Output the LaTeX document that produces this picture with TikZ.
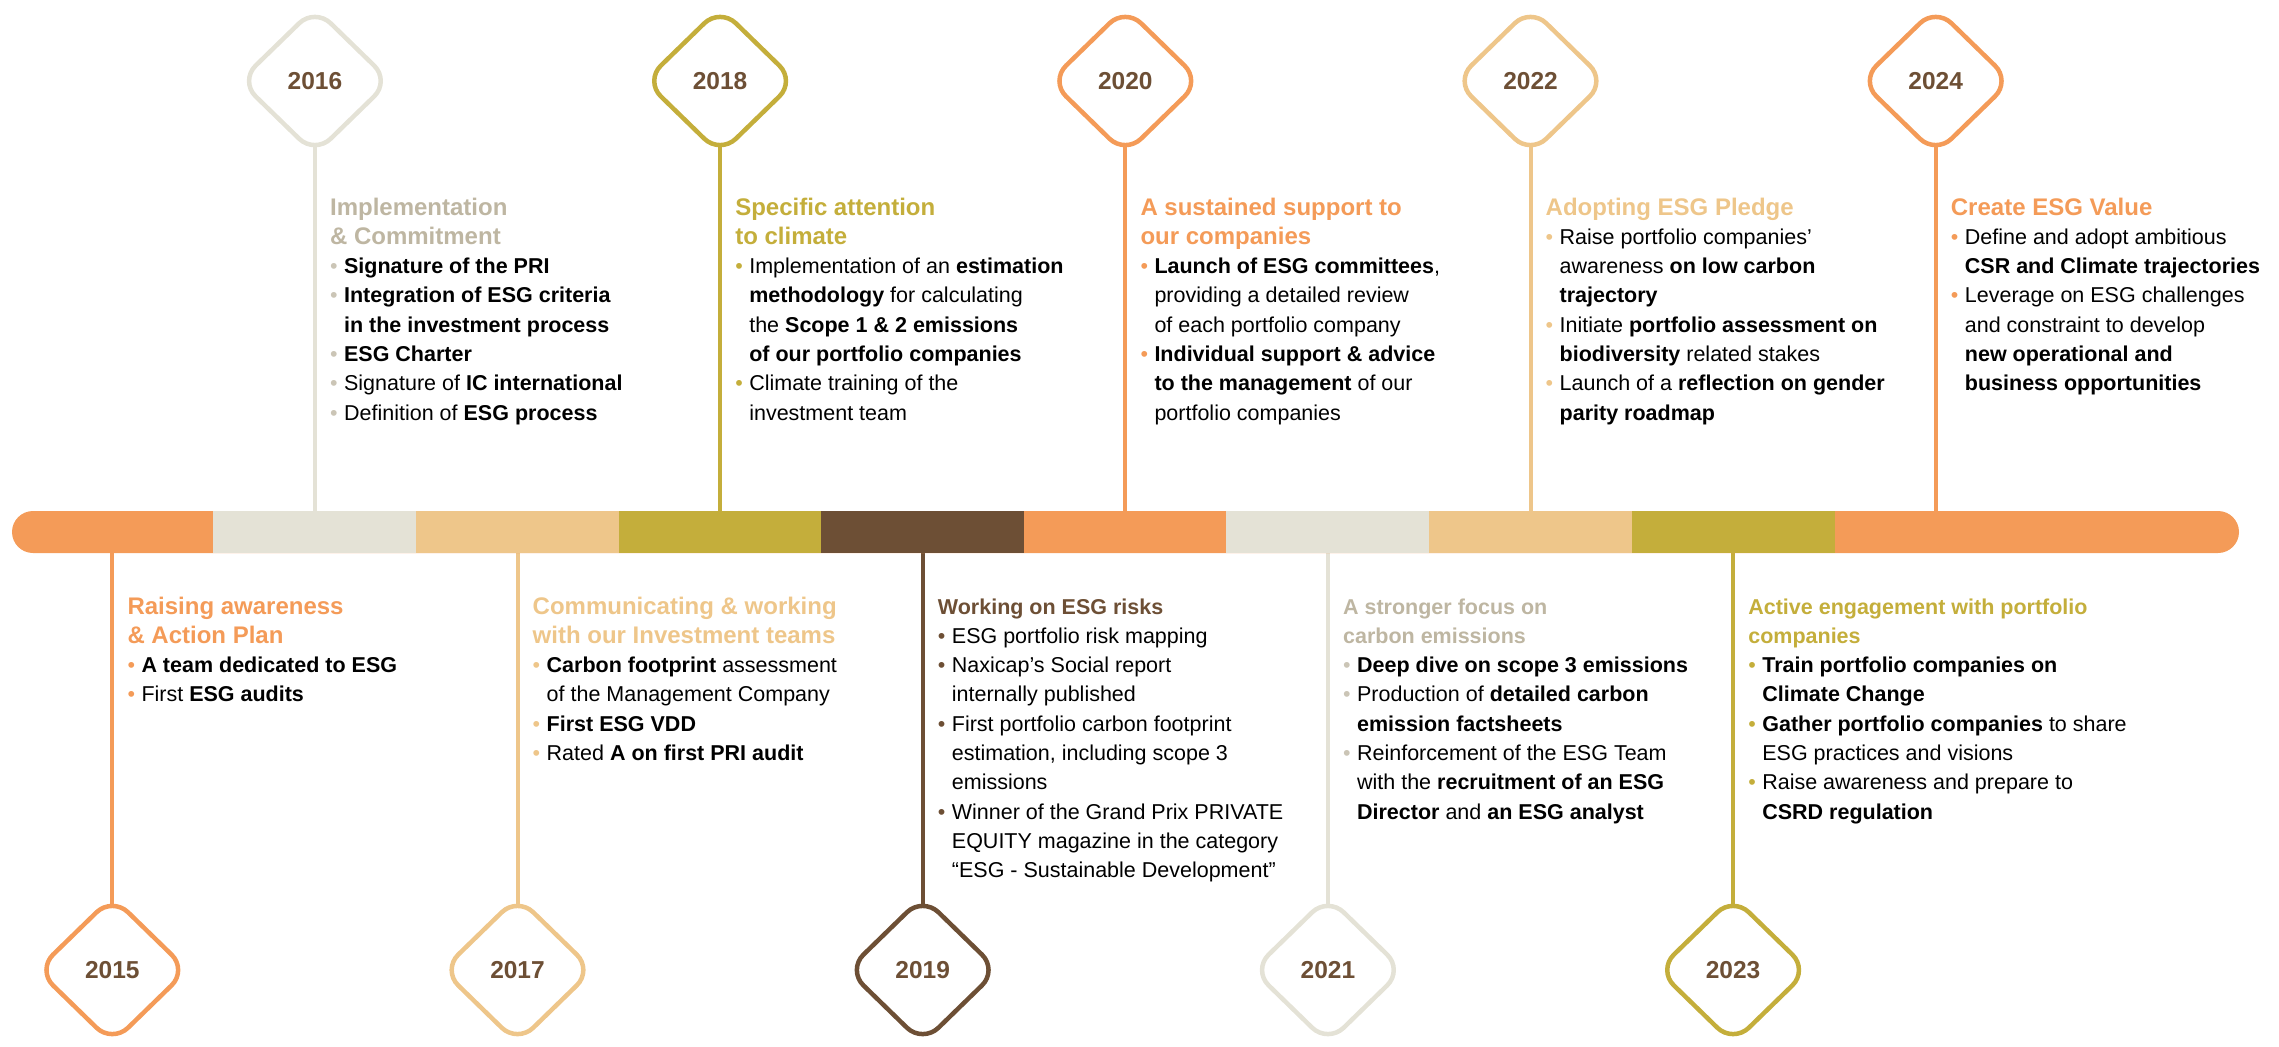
\documentclass[tikz,border=0pt]{standalone}
\usepackage{fontspec}
\setmainfont{Liberation Sans}
\usetikzlibrary{shapes.geometric,backgrounds,positioning}
\definecolor{cOrange}{HTML}{F49B58}
\definecolor{cGray}{HTML}{E4E2D6}
\definecolor{cTan}{HTML}{EEC68A}
\definecolor{cOlive}{HTML}{C4AE3B}
\definecolor{cBrown}{HTML}{6D4F35}
\definecolor{cGrayText}{HTML}{BEB6A2}
\definecolor{cGrayDot}{HTML}{CBC5B6}
\newcommand{\bul}[1]{\makebox[14pt][l]{\textcolor{#1}{•}}}
\newcommand{\cont}{\hspace*{14pt}}
\newcommand{\ttl}[2]{{\fontsize{24}{29.3}\selectfont\bfseries\color{#1}#2}}
\newcommand{\sttl}[2]{\textcolor{#1}{\textbf{#2}}}

\begin{document}
\begin{tikzpicture}[x=1pt, y=-1pt,
    bar/.style={fill=cOrange, minimum width=2227pt, minimum height=42pt, rounded corners=21pt, inner sep=0pt},
    seg/.style={minimum width=203pt, minimum height=42pt, inner sep=0pt, outer sep=0pt},
    yr/.style={diamond, fill=white, line width=4.5pt, rounded corners=22pt, minimum width=152pt, minimum height=148pt, inner sep=0pt, text=cBrown, font=\fontsize{24.5}{29}\selectfont\bfseries},
    conn/.style={line width=4pt},
    blk/.style={anchor=base west, inner sep=0pt, font=\fontsize{21.5}{29.3}\selectfont}
]
\path[use as bounding box] (0,0) rectangle (2279,1047);

% frise
\node[bar] (bar) at (1125.5,532) {};
\foreach \c [count=\i] in {cGray,cTan,cOlive,cBrown,cOrange,cGray,cTan,cOlive}
    \node[seg, fill=\c] (s\i) at ({112.3+202.6*\i},532) {};

% années
\foreach \yr/\c/\yy [count=\i from 0] in {2015/cOrange/970, 2016/cGray/81, 2017/cTan/970, 2018/cOlive/81, 2019/cBrown/970, 2020/cOrange/81, 2021/cGray/970, 2022/cTan/81, 2023/cOlive/970, 2024/cOrange/81}
    \node[yr, draw=\c] (d\yr) at ({112.3+202.6*\i},\yy) {\yr};

% traits
\begin{scope}[on background layer]
\foreach \yr/\c in {2016/cGray, 2018/cOlive, 2020/cOrange, 2022/cTan, 2024/cOrange}
    \draw[conn, \c] (d\yr.center) -- (d\yr |- bar.north);
\foreach \yr/\c in {2015/cOrange, 2017/cTan, 2019/cBrown, 2021/cGray, 2023/cOlive}
    \draw[conn, \c] (d\yr.center) -- (d\yr |- bar.south);
\end{scope}

% textes du haut
\node[blk] (t2016) at (329.9,215) {\begin{tabular}[t]{@{}l@{}}
\ttl{cGrayText}{Implementation}\\
\ttl{cGrayText}{\& Commitment}\\
\bul{cGrayDot}\textbf{Signature of the PRI}\\
\bul{cGrayDot}\textbf{Integration of ESG criteria}\\
\cont\textbf{in the investment process}\\
\bul{cGrayDot}\textbf{ESG Charter}\\
\bul{cGrayDot}Signature of \textbf{IC international}\\
\bul{cGrayDot}Definition of \textbf{ESG process}
\end{tabular}};

\node[blk] (t2018) at (735.1,215) {\begin{tabular}[t]{@{}l@{}}
\ttl{cOlive}{Specific attention}\\
\ttl{cOlive}{to climate}\\
\bul{cOlive}Implementation of an \textbf{estimation}\\
\cont\textbf{methodology} for calculating\\
\cont the \textbf{Scope 1 \& 2 emissions}\\
\cont\textbf{of our portfolio companies}\\
\bul{cOlive}Climate training of the\\
\cont investment team
\end{tabular}};

\node[blk] (t2020) at (1140.3,215) {\begin{tabular}[t]{@{}l@{}}
\ttl{cOrange}{A sustained support to}\\
\ttl{cOrange}{our companies}\\
\bul{cOrange}\textbf{Launch of ESG committees},\\
\cont providing a detailed review\\
\cont of each portfolio company\\
\bul{cOrange}\textbf{Individual support \& advice}\\
\cont\textbf{to the management} of our\\
\cont portfolio companies
\end{tabular}};

\node[blk] (t2022) at (1545.5,215) {\begin{tabular}[t]{@{}l@{}}
\ttl{cTan}{Adopting ESG Pledge}\\
\bul{cTan}Raise portfolio companies’\\
\cont awareness \textbf{on low carbon}\\
\cont\textbf{trajectory}\\
\bul{cTan}Initiate \textbf{portfolio assessment on}\\
\cont\textbf{biodiversity} related stakes\\
\bul{cTan}Launch of a \textbf{reflection on gender}\\
\cont\textbf{parity roadmap}
\end{tabular}};

\node[blk] (t2024) at (1950.7,215) {\begin{tabular}[t]{@{}l@{}}
\ttl{cOrange}{Create ESG Value}\\
\bul{cOrange}Define and adopt ambitious\\
\cont\textbf{CSR and Climate trajectories}\\
\bul{cOrange}Leverage on ESG challenges\\
\cont and constraint to develop\\
\cont\textbf{new operational and}\\
\cont\textbf{business opportunities}
\end{tabular}};

% textes du bas
\node[blk] (t2015) at (127.3,614) {\begin{tabular}[t]{@{}l@{}}
\ttl{cOrange}{Raising awareness}\\
\ttl{cOrange}{\& Action Plan}\\
\bul{cOrange}\textbf{A team dedicated to ESG}\\
\bul{cOrange}First \textbf{ESG audits}
\end{tabular}};

\node[blk] (t2017) at (532.5,614) {\begin{tabular}[t]{@{}l@{}}
\ttl{cTan}{Communicating \& working}\\
\ttl{cTan}{with our Investment teams}\\
\bul{cTan}\textbf{Carbon footprint} assessment\\
\cont of the Management Company\\
\bul{cTan}\textbf{First ESG VDD}\\
\bul{cTan}Rated \textbf{A on first PRI audit}
\end{tabular}};

\node[blk] (t2019) at (937.7,614) {\begin{tabular}[t]{@{}l@{}}
\sttl{cBrown}{Working on ESG risks}\\
\bul{cBrown}ESG portfolio risk mapping\\
\bul{cBrown}Naxicap’s Social report\\
\cont internally published\\
\bul{cBrown}First portfolio carbon footprint\\
\cont estimation, including scope 3\\
\cont emissions\\
\bul{cBrown}Winner of the Grand Prix PRIVATE\\
\cont EQUITY magazine in the category\\
\cont “ESG - Sustainable Development”
\end{tabular}};

\node[blk] (t2021) at (1342.9,614) {\begin{tabular}[t]{@{}l@{}}
\sttl{cGrayText}{A stronger focus on}\\
\sttl{cGrayText}{carbon emissions}\\
\bul{cGrayDot}\textbf{Deep dive on scope 3 emissions}\\
\bul{cGrayDot}Production of \textbf{detailed carbon}\\
\cont\textbf{emission factsheets}\\
\bul{cGrayDot}Reinforcement of the ESG Team\\
\cont with the \textbf{recruitment of an ESG}\\
\cont\textbf{Director} and \textbf{an ESG analyst}
\end{tabular}};

\node[blk] (t2023) at (1748.1,614) {\begin{tabular}[t]{@{}l@{}}
\sttl{cOlive}{Active engagement with portfolio}\\
\sttl{cOlive}{companies}\\
\bul{cOlive}\textbf{Train portfolio companies on}\\
\cont\textbf{Climate Change}\\
\bul{cOlive}\textbf{Gather portfolio companies} to share\\
\cont ESG practices and visions\\
\bul{cOlive}Raise awareness and prepare to\\
\cont\textbf{CSRD regulation}
\end{tabular}};
\end{tikzpicture}
\end{document}
